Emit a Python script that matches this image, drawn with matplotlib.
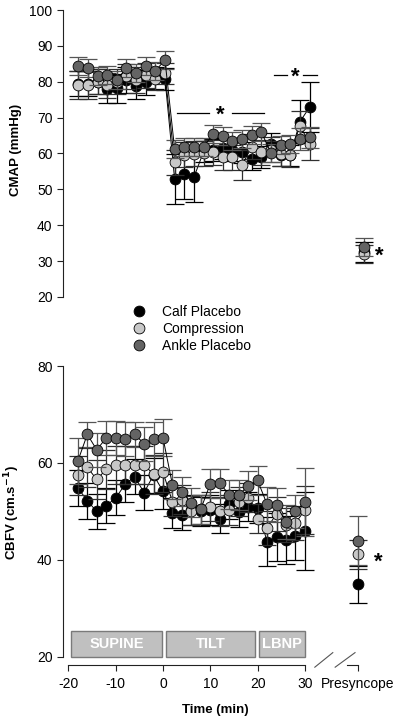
import matplotlib
matplotlib.use('Agg')
import matplotlib.pyplot as plt
from matplotlib.lines import Line2D
from matplotlib.patches import Rectangle

plt.rcParams['font.family'] = ['Liberation Sans', 'DejaVu Sans']

# ---------------- data ----------------
time = [-18, -16, -14, -12, -10, -8, -6, -4, -2, 0,
        2, 4, 6, 8, 10, 12, 14, 16, 18, 20, 22, 24, 26, 28, 30]
presyncope_x = 41.2
series = ['Calf Placebo', 'Compression', 'Ankle Placebo']
colors = ['#000000', '#c8c8c8', '#646464']
err_colors = ['#000000', '#303030', '#555555']

cmap_calf = [79.5, 79.5, 80.0, 78.0, 78.2, 80.5, 78.7, 79.8, 81.0, 80.8,
             52.8, 54.3, 53.4, 60.5, 61.0, 61.4, 61.0, 60.3, 58.4, 59.0,
             62.7, 59.6, 59.5, 68.9, 72.9]
cmap_comp = [79.1, 79.1, 80.0, 79.0, 80.0, 81.5, 80.5, 81.8, 80.8, 82.3,
             57.6, 59.6, 59.9, 60.0, 60.3, 58.9, 58.9, 56.8, 61.9, 60.3,
             61.0, 59.9, 59.6, 67.8, 62.7]
cmap_ankle = [84.5, 83.8, 81.5, 82.0, 80.4, 83.8, 82.4, 84.5, 83.1, 86.0,
              61.2, 61.9, 61.9, 61.9, 65.4, 64.9, 63.5, 64.0, 65.2, 65.9,
              60.1, 62.4, 62.6, 64.0, 64.5]
cmap_calf_err = [3.5, 3.5, 3.5, 4.0, 4.0, 3.5, 3.5, 3.5, 3.0, 3.0,
                 7.0, 7.0, 7.0, 3.0, 3.0, 3.0, 3.0, 3.0, 3.0, 3.0,
                 3.0, 3.0, 3.0, 6.0, 7.0]
cmap_comp_err = [3.8, 3.8, 3.5, 3.5, 3.5, 3.5, 3.5, 3.5, 3.0, 3.0,
                 3.5, 3.5, 3.5, 3.5, 3.5, 3.5, 3.5, 4.2, 3.5, 3.5,
                 3.5, 3.5, 3.5, 4.0, 4.5]
cmap_ankle_err = [2.5, 2.5, 2.5, 2.5, 2.5, 2.5, 2.5, 2.5, 2.5, 2.5,
                  2.5, 2.5, 2.5, 2.5, 2.5, 2.5, 2.5, 2.5, 2.5, 2.5,
                  2.5, 2.5, 2.5, 3.0, 3.0]
cmap_pre = [32.5, 32.0, 33.9]
cmap_pre_err = [2.8, 2.5, 2.5]

cbfv_calf = [54.9, 52.2, 50.0, 51.2, 52.8, 55.6, 57.2, 53.9, 57.5, 54.2,
             49.7, 49.2, 50.3, 50.0, 50.3, 48.5, 51.5, 49.8, 51.0, 50.7,
             43.8, 44.7, 44.1, 45.0, 46.0]
cbfv_comp = [57.5, 59.1, 56.6, 58.7, 59.6, 59.6, 59.6, 59.6, 57.7, 58.1,
             52.0, 52.4, 50.2, 50.5, 51.0, 50.0, 50.3, 52.0, 52.8, 48.5,
             46.6, 49.5, 47.2, 47.6, 50.3]
cbfv_ankle = [60.4, 65.9, 62.7, 65.2, 65.1, 65.0, 65.9, 64.0, 64.9, 65.2,
              55.5, 54.1, 51.8, 50.5, 55.7, 55.8, 53.5, 53.4, 55.3, 56.4,
              51.5, 51.3, 47.8, 50.0, 52.0]
cbfv_calf_err = [3.7, 3.7, 3.6, 3.6, 3.6, 3.6, 3.6, 3.6, 3.6, 3.6,
                 3.0, 3.0, 3.0, 3.0, 3.0, 3.0, 3.0, 3.0, 3.0, 3.0,
                 5.0, 5.0, 5.0, 5.0, 8.0]
cbfv_comp_err = [4.0, 4.0, 4.0, 4.0, 4.0, 4.0, 4.0, 4.0, 4.0, 4.0,
                 3.0, 3.0, 3.0, 3.0, 3.0, 3.0, 3.0, 3.0, 3.0, 3.0,
                 3.5, 3.5, 3.5, 3.5, 5.0]
cbfv_ankle_err = [4.8, 2.5, 3.5, 3.5, 3.5, 3.5, 2.5, 3.5, 3.5, 3.8,
                  3.0, 3.0, 3.0, 3.0, 3.0, 3.0, 3.0, 3.0, 3.0, 3.0,
                  3.5, 3.5, 3.5, 3.5, 7.0]
cbfv_pre = [35.0, 41.2, 44.0]
cbfv_pre_err = [3.8, 3.0, 5.0]

phases = ['SUPINE', 'TILT', 'LBNP']
phase_start = [-19.4, 0.6, 20.4]
phase_end = [-0.2, 19.5, 30.0]

# ---------------- figure ----------------
W, H = 401, 720
fig = plt.figure(figsize=(W / 100, H / 100), dpi=100)
ax_top = fig.add_axes([63 / W, (H - 297) / H, 317 / W, 287 / H])
ax_bot = fig.add_axes([63 / W, (H - 665) / H, 317 / W, 299 / H])

ax_top.set_xlim(-21.16, 44.6)
ax_top.set_ylim(20, 100)
ax_bot.set_xlim(-21.14, 45.88)
ax_bot.set_ylim(18.35, 80)

spine_c = '#222222'
for ax in (ax_top, ax_bot):
    for s in ('top', 'right'):
        ax.spines[s].set_visible(False)
    for s in ('left', 'bottom'):
        ax.spines[s].set_color(spine_c)
        ax.spines[s].set_linewidth(0.8)
    ax.tick_params(direction='out', length=4, width=0.8, colors=spine_c,
                   labelcolor='black', labelsize=10)

ax_top.spines['bottom'].set_visible(False)
ax_top.spines['left'].set_bounds(20, 100)
ax_top.set_xticks([])
ax_top.set_yticks(range(20, 101, 10))

ax_bot.spines['left'].set_bounds(20, 80)
ax_bot.spines['bottom'].set_bounds(-20, 30)
ax_bot.set_yticks([20, 40, 60, 80])
ax_bot.set_xticks([-20, -10, 0, 10, 20, 30, presyncope_x])
ax_bot.set_xticklabels(['-20', '-10', '0', '10', '20', '30', 'Presyncope'])
ax_bot.tick_params(axis='x', pad=4.5)

ms = 7.8
cap = 6.5


def draw(ax, ys, errs, pres, pres_err):
    for i in range(3):
        z = 3 + i
        ax.errorbar(time, ys[i], yerr=errs[i], fmt='none', ecolor=err_colors[i],
                    elinewidth=0.9, capsize=cap, capthick=0.9, zorder=z)
        ax.plot(time, ys[i], color='black', lw=0.7, zorder=z + 0.1)
        ax.plot(time, ys[i], 'o', ls='none', mfc=colors[i], mec='black',
                mew=0.6, ms=ms, zorder=z + 0.2)
        ax.errorbar([presyncope_x], [pres[i]], yerr=[pres_err[i]], fmt='none',
                    ecolor=err_colors[i], elinewidth=0.9, capsize=cap,
                    capthick=0.9, zorder=z, clip_on=False)
        ax.plot([presyncope_x], [pres[i]], 'o', mfc=colors[i], mec='black',
                mew=0.6, ms=ms, zorder=z + 0.2, clip_on=False)


draw(ax_top, [cmap_calf, cmap_comp, cmap_ankle],
     [cmap_calf_err, cmap_comp_err, cmap_ankle_err], cmap_pre, cmap_pre_err)
draw(ax_bot, [cbfv_calf, cbfv_comp, cbfv_ankle],
     [cbfv_calf_err, cbfv_comp_err, cbfv_ankle_err], cbfv_pre, cbfv_pre_err)

# significance markers (top)
ax_top.plot([2.5, 9.1], [71.3, 71.3], color='black', lw=0.9)
ax_top.plot([13.9, 20.5], [71.3, 71.3], color='black', lw=0.9)
ax_top.text(11.4, 71.3, '*', ha='center', va='center_baseline', fontsize=16,
            fontweight='bold')
ax_top.plot([22.6, 25.3], [81.9, 81.9], color='black', lw=0.9)
ax_top.plot([28.6, 31.5], [81.9, 81.9], color='black', lw=0.9)
ax_top.text(27.0, 81.9, '*', ha='center', va='center_baseline', fontsize=16,
            fontweight='bold')
ax_top.text(44.4, 32.0, '*', ha='center', va='center_baseline', fontsize=16,
            fontweight='bold', clip_on=False)
ax_bot.text(45.5, 40.0, '*', ha='center', va='center_baseline', fontsize=16,
            fontweight='bold', clip_on=False)

# phase boxes
for name, a, b in zip(phases, phase_start, phase_end):
    ax_bot.add_patch(Rectangle((a, 20), b - a, 5.4, facecolor='#c0c0c0',
                               edgecolor='#7a7a7a', lw=1.0, zorder=2))
    ax_bot.text((a + b) / 2, 22.7, name, ha='center', va='center',
                color='white', fontsize=10.5, fontweight='bold', zorder=2.5)

# axis break
bc = '#555555'
ax_bot.plot([32.1, 35.9], [17.9, 20.9], color=bc, lw=0.8, clip_on=False)
ax_bot.plot([36.4, 40.6], [17.9, 20.9], color=bc, lw=0.8, clip_on=False)
ax_bot.plot([38.9, presyncope_x], [18.35, 18.35], color=spine_c, lw=0.8,
            clip_on=False)

# labels
ax_top.set_ylabel('CMAP (mmHg)', fontsize=9.5, fontweight='bold')
ax_top.yaxis.set_label_coords(-0.128, 0.512)
ax_bot.set_ylabel('CBFV (cm.s$^{\\mathbf{-1}}$)', fontsize=9.5, fontweight='bold')
ax_bot.yaxis.set_label_coords(-0.128, 0.51)
ax_bot.set_xlabel('Time (min)', fontsize=9.5, fontweight='bold')
ax_bot.xaxis.set_label_coords((215 - 63) / 317, -0.13)

# legend
handles = [Line2D([], [], marker='o', ls='none', mfc=c, mec='black', mew=0.6,
                  ms=ms) for c in colors]
ax_top.legend(handles, series, loc='upper left',
              bbox_to_anchor=(132 / W, (H - 305) / H),
              bbox_transform=fig.transFigure, frameon=False, fontsize=10,
              handlelength=1.0, handletextpad=1.15, labelspacing=0.22,
              borderpad=0, borderaxespad=0)

fig.savefig('out.png', dpi=100)
